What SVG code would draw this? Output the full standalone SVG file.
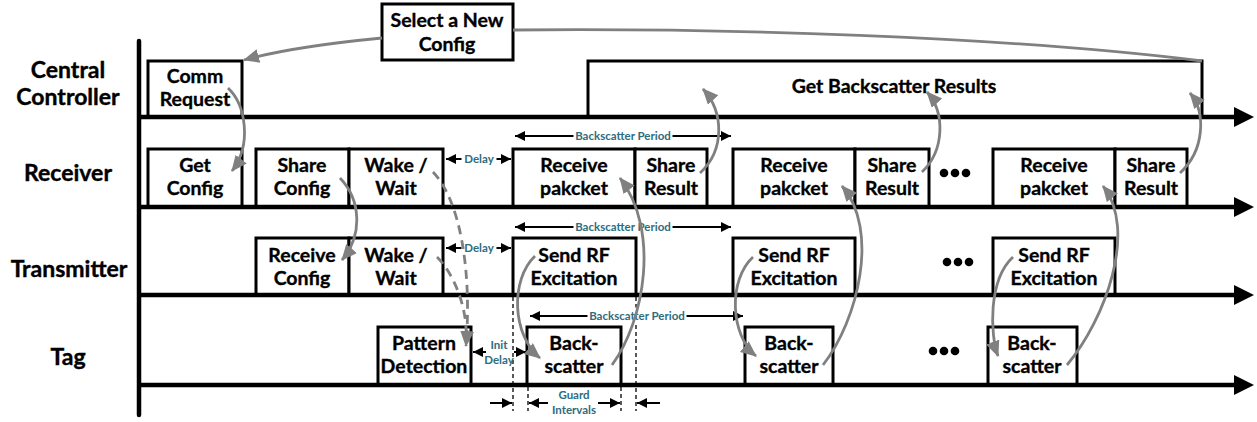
<svg xmlns="http://www.w3.org/2000/svg" width="1257" height="422" viewBox="0 0 1257 422">
  <style>
    .box { fill: #ffffff; stroke: #000000; stroke-width: 3; }
    .lbl { font-family: Lato, "Liberation Sans", sans-serif; font-weight: bold; font-size: 19.5px; fill: #000000; stroke: #000000; stroke-width: 0.35; text-anchor: middle; }
    .row { font-family: Lato, "Liberation Sans", sans-serif; font-weight: bold; font-size: 23px; fill: #000000; stroke: #000000; stroke-width: 0.4; text-anchor: middle; }
    .dim { font-family: Lato, "Liberation Sans", sans-serif; font-weight: bold; font-size: 11.5px; fill: #2f6c7d; text-anchor: middle; }
    .axis { stroke: #000000; stroke-width: 4.5; fill: none; }
    .dimline { stroke: #000000; stroke-width: 2; fill: none; }
    .flow { stroke: #808080; stroke-width: 2.8; fill: none; }
    .flowdash { stroke: #808080; stroke-width: 2.8; fill: none; stroke-dasharray: 9 6; }
    .guide { stroke: #000000; stroke-width: 1.3; fill: none; stroke-dasharray: 4 3; }
    .dot { fill: #000000; }
    .bg { fill: #ffffff; stroke: #ffffff; stroke-width: 3; }
  </style>
  <defs>
    <marker id="grayHead" markerUnits="userSpaceOnUse" markerWidth="18" markerHeight="16" refX="15" refY="7" orient="auto" viewBox="0 0 18 16">
      <path d="M0,0 L16,7 L0,14 z" fill="#808080"/>
    </marker>
    <marker id="dimHead" markerUnits="userSpaceOnUse" markerWidth="11" markerHeight="11" refX="10" refY="5" orient="auto-start-reverse" viewBox="0 0 11 11">
      <path d="M0,0 L10,5 L0,10 z" fill="#000000"/>
    </marker>
  </defs>

  <!-- row titles -->
  <g id="row-labels">
    <text class="row" x="68" y="78">Central</text>
    <text class="row" x="68" y="105">Controller</text>
    <text class="row" x="68" y="181">Receiver</text>
    <text class="row" x="69" y="277">Transmitter</text>
    <text class="row" x="68" y="365">Tag</text>
  </g>

  <!-- central controller lane -->
  <g id="node-comm-request">
    <rect class="box" x="148" y="61" width="94" height="56"/>
    <text class="lbl" x="195" y="83">Comm</text>
    <text class="lbl" x="195" y="106">Request</text>
  </g>
  <g id="node-select-config">
    <rect class="box" x="382" y="4" width="131" height="56"/>
    <text class="lbl" x="447" y="27">Select a New</text>
    <text class="lbl" x="447" y="51">Config</text>
  </g>
  <g id="node-get-results">
    <rect class="box" x="588" y="61" width="614" height="56"/>
    <text class="lbl" x="894" y="93">Get Backscatter Results</text>
  </g>

  <!-- receiver lane -->
  <g id="node-rx-get-config">
    <rect class="box" x="148" y="149" width="94" height="58"/>
    <text class="lbl" x="195" y="172">Get</text>
    <text class="lbl" x="195" y="195">Config</text>
  </g>
  <g id="node-rx-share-config">
    <rect class="box" x="256" y="149" width="93" height="58"/>
    <text class="lbl" x="302" y="172">Share</text>
    <text class="lbl" x="302" y="195">Config</text>
  </g>
  <g id="node-rx-wake">
    <rect class="box" x="349" y="149" width="94" height="58"/>
    <text class="lbl" x="396" y="172">Wake /</text>
    <text class="lbl" x="396" y="195">Wait</text>
  </g>
  <g id="node-rx-receive-1">
    <rect class="box" x="513" y="149" width="122" height="58"/>
    <text class="lbl" x="574" y="172">Receive</text>
    <text class="lbl" x="574" y="195">pakcket</text>
  </g>
  <g id="node-rx-share-1">
    <rect class="box" x="635" y="149" width="72" height="58"/>
    <text class="lbl" x="671" y="172">Share</text>
    <text class="lbl" x="671" y="195">Result</text>
  </g>
  <g id="node-rx-receive-2">
    <rect class="box" x="733" y="149" width="122" height="58"/>
    <text class="lbl" x="794" y="172">Receive</text>
    <text class="lbl" x="794" y="195">pakcket</text>
  </g>
  <g id="node-rx-share-2">
    <rect class="box" x="855" y="149" width="74" height="58"/>
    <text class="lbl" x="892" y="172">Share</text>
    <text class="lbl" x="892" y="195">Result</text>
  </g>
  <g id="node-rx-receive-3">
    <rect class="box" x="993" y="149" width="122" height="58"/>
    <text class="lbl" x="1054" y="172">Receive</text>
    <text class="lbl" x="1054" y="195">pakcket</text>
  </g>
  <g id="node-rx-share-3">
    <rect class="box" x="1115" y="149" width="72" height="58"/>
    <text class="lbl" x="1151" y="172">Share</text>
    <text class="lbl" x="1151" y="195">Result</text>
  </g>

  <!-- transmitter lane -->
  <g id="node-tx-receive-config">
    <rect class="box" x="256" y="238" width="93" height="57"/>
    <text class="lbl" x="302" y="262">Receive</text>
    <text class="lbl" x="302" y="285">Config</text>
  </g>
  <g id="node-tx-wake">
    <rect class="box" x="349" y="238" width="94" height="57"/>
    <text class="lbl" x="396" y="262">Wake /</text>
    <text class="lbl" x="396" y="285">Wait</text>
  </g>
  <g id="node-tx-send-1">
    <rect class="box" x="513" y="238" width="123" height="57"/>
    <text class="lbl" x="574" y="262">Send RF</text>
    <text class="lbl" x="574" y="285">Excitation</text>
  </g>
  <g id="node-tx-send-2">
    <rect class="box" x="733" y="238" width="122" height="57"/>
    <text class="lbl" x="794" y="262">Send RF</text>
    <text class="lbl" x="794" y="285">Excitation</text>
  </g>
  <g id="node-tx-send-3">
    <rect class="box" x="993" y="238" width="122" height="57"/>
    <text class="lbl" x="1054" y="262">Send RF</text>
    <text class="lbl" x="1054" y="285">Excitation</text>
  </g>

  <!-- tag lane -->
  <g id="node-tag-pattern">
    <rect class="box" x="378" y="327" width="93" height="58"/>
    <text class="lbl" x="424" y="350">Pattern</text>
    <text class="lbl" x="424" y="373">Detection</text>
  </g>
  <g id="node-tag-backscatter-1">
    <rect class="box" x="527" y="327" width="94" height="58"/>
    <text class="lbl" x="574" y="350">Back-</text>
    <text class="lbl" x="574" y="373">scatter</text>
  </g>
  <g id="node-tag-backscatter-2">
    <rect class="box" x="745" y="327" width="88" height="58"/>
    <text class="lbl" x="789" y="350">Back-</text>
    <text class="lbl" x="789" y="373">scatter</text>
  </g>
  <g id="node-tag-backscatter-3">
    <rect class="box" x="988" y="327" width="89" height="58"/>
    <text class="lbl" x="1032" y="350">Back-</text>
    <text class="lbl" x="1032" y="373">scatter</text>
  </g>

  <!-- continuation dots -->
  <g id="ellipses">
    <circle class="dot" cx="944" cy="173" r="4.3"/>
    <circle class="dot" cx="955" cy="173" r="4.3"/>
    <circle class="dot" cx="966" cy="173" r="4.3"/>
    <circle class="dot" cx="947" cy="262" r="4.3"/>
    <circle class="dot" cx="958" cy="262" r="4.3"/>
    <circle class="dot" cx="969" cy="262" r="4.3"/>
    <circle class="dot" cx="933" cy="351" r="4.3"/>
    <circle class="dot" cx="944" cy="351" r="4.3"/>
    <circle class="dot" cx="955" cy="351" r="4.3"/>
  </g>

  <!-- time axes -->
  <g id="axes">
    <line class="axis" x1="139" y1="41" x2="139" y2="415" stroke-linecap="round"/>
    <line class="axis" x1="139" y1="117" x2="1236" y2="117"/>
    <path d="M1234,107 L1254,117 L1234,127 z"/>
    <line class="axis" x1="139" y1="207" x2="1236" y2="207"/>
    <path d="M1234,197 L1254,207 L1234,217 z"/>
    <line class="axis" x1="139" y1="295" x2="1236" y2="295"/>
    <path d="M1234,285 L1254,295 L1234,305 z"/>
    <line class="axis" x1="139" y1="385" x2="1236" y2="385"/>
    <path d="M1234,375 L1254,385 L1234,395 z"/>
  </g>

  <!-- timing dimensions -->
  <g id="dimensions">
    <line class="guide" x1="513" y1="297" x2="513" y2="411"/>
    <line class="guide" x1="636" y1="297" x2="636" y2="411"/>
    <line class="guide" x1="528" y1="387" x2="528" y2="411"/>
    <line class="guide" x1="621" y1="387" x2="621" y2="411"/>

    <line class="dimline" x1="515" y1="136" x2="731" y2="136" marker-start="url(#dimHead)" marker-end="url(#dimHead)"/>
    <rect class="bg" x="575" y="129" width="96" height="13"/>
    <text class="dim" x="623" y="140">Backscatter Period</text>

    <line class="dimline" x1="515" y1="227" x2="731" y2="227" marker-start="url(#dimHead)" marker-end="url(#dimHead)"/>
    <rect class="bg" x="575" y="220" width="96" height="13"/>
    <text class="dim" x="623" y="231">Backscatter Period</text>

    <line class="dimline" x1="530" y1="316" x2="743" y2="316" marker-start="url(#dimHead)" marker-end="url(#dimHead)"/>
    <rect class="bg" x="589" y="309" width="96" height="13"/>
    <text class="dim" x="637" y="320">Backscatter Period</text>

    <line class="dimline" x1="446" y1="159" x2="511" y2="159" marker-start="url(#dimHead)" marker-end="url(#dimHead)"/>
    <rect class="bg" x="463" y="152" width="32" height="13"/>
    <text class="dim" x="479" y="163">Delay</text>

    <line class="dimline" x1="446" y1="248" x2="511" y2="248" marker-start="url(#dimHead)" marker-end="url(#dimHead)"/>
    <rect class="bg" x="463" y="241" width="32" height="13"/>
    <text class="dim" x="479" y="252">Delay</text>

    <line class="dimline" x1="486" y1="352" x2="473" y2="352" marker-end="url(#dimHead)"/>
    <line class="dimline" x1="514" y1="352" x2="526" y2="352" marker-end="url(#dimHead)"/>
    <text class="dim" x="499" y="349">Init</text>
    <text class="dim" x="499" y="364">Delay</text>

    <line class="dimline" x1="490" y1="403" x2="512" y2="403" marker-end="url(#dimHead)"/>
    <line class="dimline" x1="548" y1="403" x2="529" y2="403" marker-end="url(#dimHead)"/>
    <line class="dimline" x1="598" y1="403" x2="620" y2="403" marker-end="url(#dimHead)"/>
    <line class="dimline" x1="660" y1="403" x2="637" y2="403" marker-end="url(#dimHead)"/>
    <text class="dim" x="574" y="399">Guard</text>
    <text class="dim" x="574" y="414">Intervals</text>
  </g>

  <!-- message flow between lanes -->
  <g id="connectors">
    <path class="flow" d="M1202,61 C1000,36 720,28 513,30"/>
    <path class="flow" d="M382,38 C320,44 280,50 244,60" marker-end="url(#grayHead)"/>
    <path class="flow" d="M228,88 C246,105 252,145 232,171" marker-end="url(#grayHead)"/>
    <path class="flow" d="M340,178 C361,200 363,235 342,260" marker-end="url(#grayHead)"/>
    <path class="flowdash" d="M433,172 C460,200 472,270 466,346" marker-end="url(#grayHead)"/>
    <path class="flowdash" d="M437,257 C455,275 468,310 466,340"/>
    <path class="flow" d="M612,365 C645,320 660,230 620,178" marker-end="url(#grayHead)"/>
    <path class="flow" d="M700,173 C725,150 724,112 703,89" marker-end="url(#grayHead)"/>
    <path class="flow" d="M535,256 C510,280 512,335 540,358" marker-end="url(#grayHead)"/>
    <path class="flow" d="M823,365 C858,320 880,230 842,186" marker-end="url(#grayHead)"/>
    <path class="flow" d="M922,172 C945,150 945,112 927,92" marker-end="url(#grayHead)"/>
    <path class="flow" d="M753,257 C728,280 730,335 756,356" marker-end="url(#grayHead)"/>
    <path class="flow" d="M1067,365 C1105,320 1138,230 1103,186" marker-end="url(#grayHead)"/>
    <path class="flow" d="M1180,173 C1205,150 1206,112 1190,93" marker-end="url(#grayHead)"/>
    <path class="flow" d="M1013,257 C988,280 990,335 998,356" marker-end="url(#grayHead)"/>
  </g>
</svg>
